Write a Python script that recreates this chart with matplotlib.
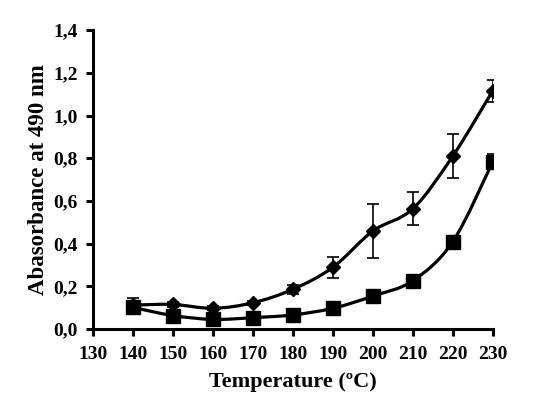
import matplotlib
matplotlib.use("Agg")
import matplotlib.pyplot as plt
from matplotlib.path import Path
from matplotlib.patches import PathPatch
import numpy as np

temperature = [140, 150, 160, 170, 180, 190, 200, 210, 220, 230]
series_diamond = [0.112, 0.115, 0.097, 0.123, 0.186, 0.289, 0.459, 0.563, 0.810, 1.116]
err_diamond = [0.035, 0.012, 0.010, 0.010, 0.020, 0.048, 0.125, 0.077, 0.103, 0.052]
series_square = [0.101, 0.063, 0.045, 0.053, 0.066, 0.097, 0.154, 0.226, 0.409, 0.783]
err_square = [0.010, 0.008, 0.006, 0.006, 0.006, 0.008, 0.010, 0.012, 0.015, 0.035]
xticks = [130, 140, 150, 160, 170, 180, 190, 200, 210, 220, 230]
yticks = [0.0, 0.2, 0.4, 0.6, 0.8, 1.0, 1.2, 1.4]
ytick_labels = ["0,0", "0,2", "0,4", "0,6", "0,8", "1,0", "1,2", "1,4"]

plt.rcParams['font.family'] = ['Liberation Serif', 'DejaVu Serif']
plt.rcParams['font.weight'] = 'bold'

fig = plt.figure(figsize=(5.35, 4.13), dpi=100)
ax = fig.add_axes([0.174, 0.2034, 0.747, 0.7236])
ax.set_xlim(130, 230)
ax.set_ylim(0, 1.4)


def smooth_path(xs, ys):
    pts = np.column_stack([xs, ys]).astype(float)
    n = len(pts)
    verts = [pts[0]]
    codes = [Path.MOVETO]
    for i in range(n - 1):
        p0 = pts[i - 1] if i > 0 else pts[i]
        p1 = pts[i]
        p2 = pts[i + 1]
        p3 = pts[i + 2] if i + 2 < n else pts[i + 1]
        c1 = p1 + (p2 - p0) / 6.0
        c2 = p2 - (p3 - p1) / 6.0
        verts += [c1, c2, p2]
        codes += [Path.CURVE4] * 3
    return Path(verts, codes)


for ys in (series_diamond, series_square):
    ax.add_patch(PathPatch(smooth_path(temperature, ys), fill=False,
                           edgecolor='black', lw=2.3, zorder=2))

ax.errorbar(temperature, series_diamond, yerr=err_diamond, fmt='none',
            ecolor='black', elinewidth=1.2, capsize=4, capthick=1.2, zorder=3)
ax.errorbar(temperature, series_square, yerr=err_square, fmt='none',
            ecolor='black', elinewidth=1.2, capsize=4, capthick=1.2, zorder=3)
ax.plot(temperature, series_diamond, linestyle='none', marker='D',
        markersize=7, color='black', zorder=4)
ax.plot(temperature, series_square, linestyle='none', marker='s',
        markersize=10, color='black', zorder=4)

for side in ('top', 'right'):
    ax.spines[side].set_visible(False)
for side in ('left', 'bottom'):
    ax.spines[side].set_linewidth(2.2)

ax.set_xticks(xticks)
ax.set_xticklabels([str(t) for t in xticks])
ax.set_yticks(yticks)
ax.set_yticklabels(ytick_labels)
ax.tick_params(axis='both', direction='out', length=5, width=2.2,
               labelsize=14, colors='black')
ax.tick_params(axis='x', pad=7)
ax.tick_params(axis='y', pad=6)
for lab in ax.get_xticklabels() + ax.get_yticklabels():
    lab.set_fontweight('bold')

ax.set_xlabel("Temperature (ºC)", fontsize=16, fontweight='bold', labelpad=7)
ax.set_ylabel("Abasorbance at 490 nm", fontsize=16.5, fontweight='bold', labelpad=3)

fig.savefig("out.png", dpi=100)
